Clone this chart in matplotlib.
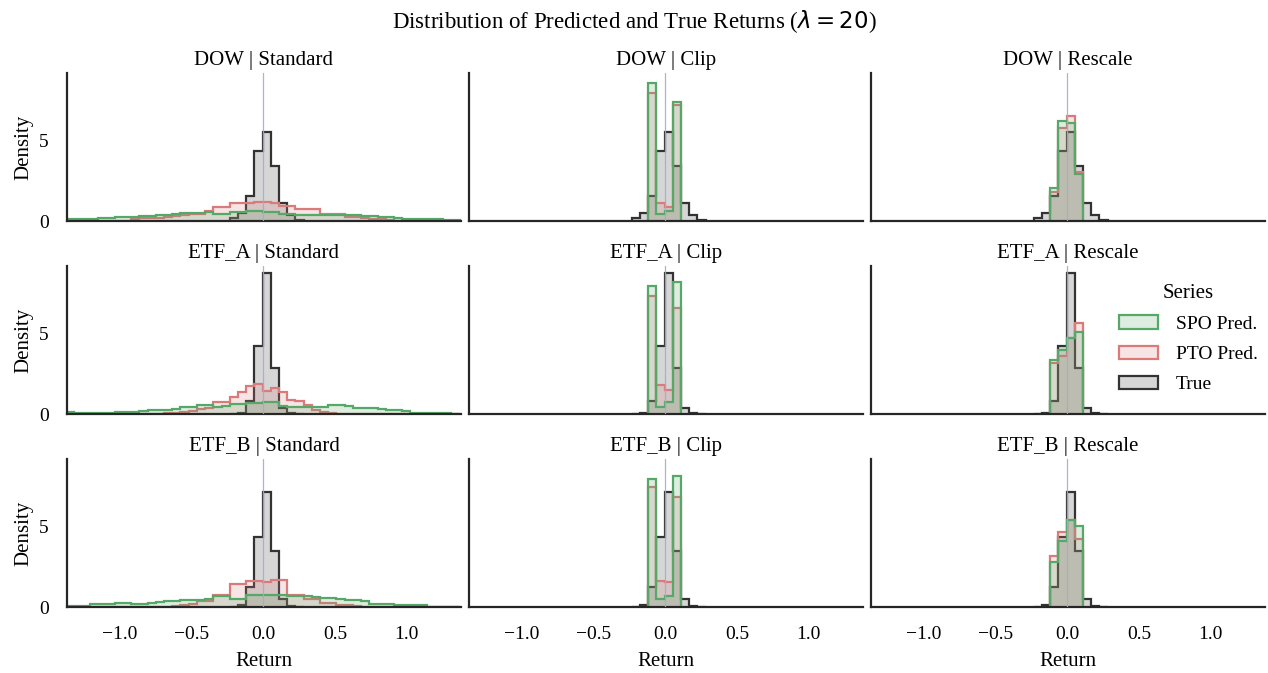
import numpy as np
import matplotlib
matplotlib.use("Agg")
import matplotlib.pyplot as plt
from matplotlib.colors import to_rgba
from matplotlib.patches import Patch

assets = ["DOW", "ETF_A", "ETF_B"]
methods = ["Standard", "Clip", "Rescale"]
series = ["SPO Pred.", "PTO Pred.", "True"]
colors = {"SPO Pred.": "#55a868", "PTO Pred.": "#d97b7b", "True": "#333333"}

# common bin grid (density histograms, all panels)
bin_start = -1.38
bin_width = 0.0573
n_bins = 48
true_first = 20   # first bin of the 9-bin "True" lists
pred_first = 22   # first bin of the 4-bin Clip / Rescale lists

# Standard: predicted returns, all 48 bins
std_spo_dow = [0.12, 0.12, 0.12, 0.14, 0.16, 0.2, 0.25, 0.25, 0.28, 0.3, 0.3, 0.35,
               0.4, 0.42, 0.5, 0.5, 0.52, 0.55, 0.45, 0.45, 0.55, 0.55, 0.62, 0.62,
               0.55, 0.55, 0.45, 0.42, 0.4, 0.4, 0.38, 0.4, 0.4, 0.38, 0.35, 0.35,
               0.3, 0.3, 0.25, 0.22, 0.18, 0.15, 0.14, 0.12, 0.1, 0.1, 0.08, 0.08]
std_pto_dow = [0, 0, 0, 0, 0, 0, 0, 0, 0.15, 0.18, 0.2, 0.2,
               0.22, 0.3, 0.4, 0.42, 0.45, 0.62, 0.86, 0.86, 1.1, 1.1, 1.15, 1.17,
               1.17, 1.15, 0.93, 0.93, 0.72, 0.72, 0.72, 0.45, 0.45, 0.45, 0.25, 0.22,
               0.2, 0.15, 0.1, 0.05, 0.03, 0.02, 0, 0, 0, 0, 0, 0]
std_spo_etfa = [0.1, 0.08, 0.05, 0.05, 0.05, 0.08, 0.12, 0.15, 0.15, 0.2, 0.22, 0.25,
                0.25, 0.3, 0.42, 0.42, 0.58, 0.58, 0.45, 0.5, 0.62, 0.62, 0.66, 0.7,
                0.73, 0.73, 0.5, 0.46, 0.46, 0.46, 0.46, 0.46, 0.58, 0.58, 0.5, 0.37,
                0.37, 0.37, 0.3, 0.25, 0.25, 0.2, 0.08, 0.06, 0.06, 0.05, 0.05, 0.03]
std_pto_etfa = [0, 0, 0, 0, 0, 0, 0, 0, 0, 0, 0.02, 0.03,
                0.05, 0.08, 0.15, 0.2, 0.3, 0.35, 0.73, 0.73, 1.05, 1.35, 1.75, 1.85,
                1.45, 1.6, 1.35, 0.85, 0.8, 0.55, 0.25, 0.12, 0.06, 0.03, 0.02, 0.01,
                0, 0, 0, 0, 0, 0, 0, 0, 0, 0, 0, 0]
std_spo_etfb = [0.04, 0.05, 0.05, 0.2, 0.2, 0.2, 0.25, 0.25, 0.2, 0.2, 0.25, 0.3,
                0.35, 0.35, 0.45, 0.46, 0.46, 0.52, 0.67, 0.67, 0.52, 0.52, 0.77, 0.77,
                0.73, 0.73, 0.73, 0.67, 0.67, 0.67, 0.6, 0.56, 0.56, 0.5, 0.46, 0.46,
                0.4, 0.2, 0.2, 0.2, 0.15, 0.15, 0.1, 0.1, 0.03, 0, 0, 0]
std_pto_etfb = [0, 0, 0, 0, 0, 0, 0, 0, 0, 0, 0, 0,
                0, 0.05, 0.1, 0.2, 0.35, 0.35, 0.73, 0.73, 1.4, 1.4, 1.6, 1.6,
                1.58, 1.65, 1.65, 0.75, 0.73, 0.52, 0.5, 0.25, 0.25, 0.15, 0.12, 0.05,
                0.03, 0, 0, 0, 0, 0, 0, 0, 0, 0, 0, 0]

# true returns, same in every column of a row
true_dow = [0.18, 0.5, 1.58, 4.33, 5.5, 3.4, 1.13, 0.4, 0.08]
true_etfa = [0.0, 0.08, 0.8, 4.2, 8.75, 2.85, 0.35, 0.05, 0.0]
true_etfb = [0.03, 0.15, 1.25, 4.35, 7.15, 3.5, 0.5, 0.08, 0.0]

# Clip / Rescale: predicted returns
clip_spo_dow = [8.58, 0.45, 0.62, 7.4]
clip_pto_dow = [7.96, 1.1, 0.86, 7.2]
clip_spo_etfa = [7.96, 0.46, 0.73, 8.19]
clip_pto_etfa = [7.3, 1.83, 1.5, 6.56]
clip_spo_etfb = [7.92, 0.52, 0.67, 8.15]
clip_pto_etfb = [7.44, 1.6, 1.54, 6.85]
resc_spo_dow = [2.04, 6.21, 6.11, 2.92]
resc_pto_dow = [1.79, 5.8, 6.52, 3.02]
resc_spo_etfa = [3.38, 4.0, 4.75, 5.1]
resc_pto_etfa = [3.17, 3.58, 4.69, 5.63]
resc_spo_etfb = [2.81, 4.1, 5.4, 5.04]
resc_pto_etfb = [3.17, 4.63, 5.4, 4.2]

x_ticks = [-1.0, -0.5, 0.0, 0.5, 1.0]
y_ticks = [0, 5]

edges = bin_start + bin_width * np.arange(n_bins + 1)

true_rows = {"DOW": true_dow, "ETF_A": true_etfa, "ETF_B": true_etfb}
pred = {
    ("DOW", "Standard"): (std_spo_dow, std_pto_dow, 0),
    ("ETF_A", "Standard"): (std_spo_etfa, std_pto_etfa, 0),
    ("ETF_B", "Standard"): (std_spo_etfb, std_pto_etfb, 0),
    ("DOW", "Clip"): (clip_spo_dow, clip_pto_dow, pred_first),
    ("ETF_A", "Clip"): (clip_spo_etfa, clip_pto_etfa, pred_first),
    ("ETF_B", "Clip"): (clip_spo_etfb, clip_pto_etfb, pred_first),
    ("DOW", "Rescale"): (resc_spo_dow, resc_pto_dow, pred_first),
    ("ETF_A", "Rescale"): (resc_spo_etfa, resc_pto_etfa, pred_first),
    ("ETF_B", "Rescale"): (resc_spo_etfb, resc_pto_etfb, pred_first),
}


def draw_hist(ax, heights, first, color):
    e = edges[first:first + len(heights) + 1]
    ax.stairs(heights, e, baseline=0, fill=True,
              facecolor=to_rgba(color, 0.2), edgecolor=color, linewidth=1.6)


plt.rcParams["font.family"] = ["Liberation Serif", "DejaVu Serif"]
plt.rcParams["mathtext.fontset"] = "dejavusans"

fig, axes = plt.subplots(3, 3, figsize=(12.68, 6.73), dpi=100, sharex=True, sharey=True)
fig.subplots_adjust(left=0.0528, right=0.9976, top=0.8915, bottom=0.098,
                    wspace=0.02, hspace=0.304)

ymax = max(max(v) for v in true_rows.values()) * 1.05

for i, asset in enumerate(assets):
    for j, method in enumerate(methods):
        ax = axes[i, j]
        spo, pto, first = pred[(asset, method)]
        # seaborn layers the hue levels in reverse order
        draw_hist(ax, true_rows[asset], true_first, colors["True"])
        draw_hist(ax, pto, first, colors["PTO Pred."])
        draw_hist(ax, spo, first, colors["SPO Pred."])
        ax.axvline(0, color="#a4acc8", lw=0.9, alpha=0.9, zorder=5)

        ax.set_title(f"{asset} | {method}", fontsize=15, pad=6)
        ax.set_xlim(-1.37, 1.38)
        ax.set_ylim(0, ymax)
        ax.set_xticks(x_ticks)
        ax.set_yticks(y_ticks)
        ax.tick_params(length=0, labelsize=14)
        ax.tick_params(axis="y", pad=13)
        ax.tick_params(axis="x", pad=14)
        for s in ["top", "right"]:
            ax.spines[s].set_visible(False)
        for s in ["left", "bottom"]:
            ax.spines[s].set_color("#262626")
            ax.spines[s].set_linewidth(1.6)
        if j == 0:
            ax.set_ylabel("Density", fontsize=15, labelpad=4)
        if i == 2:
            ax.set_xlabel("Return", fontsize=15, labelpad=6)

handles = [Patch(facecolor=to_rgba(colors[s], 0.2), edgecolor=colors[s], linewidth=1.6)
           for s in series]
leg = fig.legend(handles, series, title="Series", loc="center left",
                 bbox_to_anchor=(0.869, 0.497), frameon=False, fontsize=14,
                 title_fontsize=15, labelspacing=0.65, handletextpad=0.9)

fig.suptitle(r"Distribution of Predicted and True Returns ($\lambda = 20$)",
             fontsize=16.5, y=0.988)

fig.savefig("out.png", dpi=100)
